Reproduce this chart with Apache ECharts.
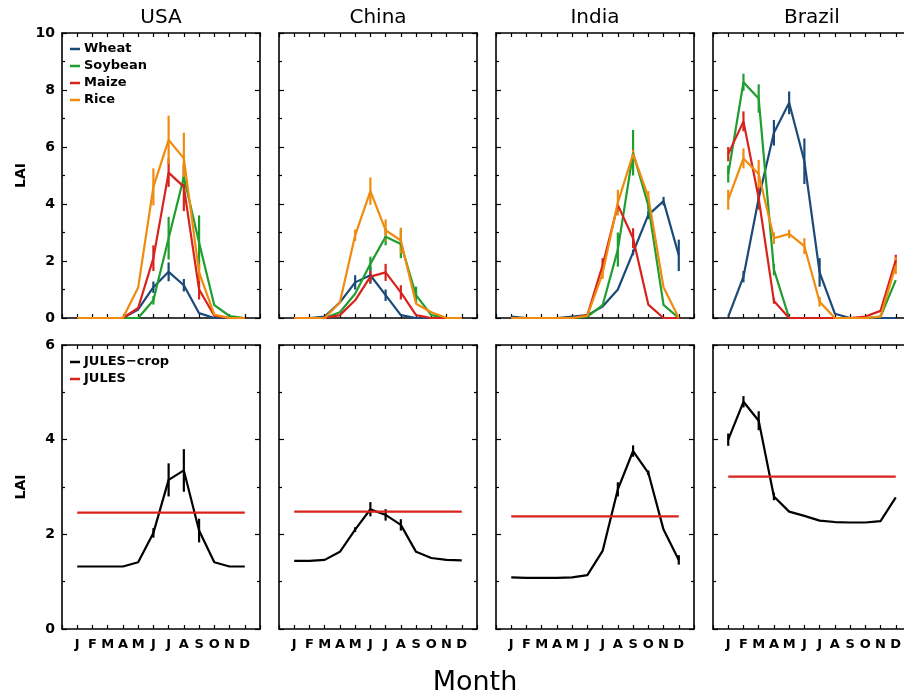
<!DOCTYPE html>
<html>
<head>
<meta charset="utf-8">
<script src="https://cdn.jsdelivr.net/npm/echarts@6/dist/echarts.min.js"></script>
<style>
  html, body { margin: 0; padding: 0; background: #fff; }
  #chart { width: 904px; height: 696px; }
</style>
</head>
<body>
<div id="chart"></div>
<script>
// ---- data -------------------------------------------------------------
const months = ['J', 'F', 'M', 'A', 'M', 'J', 'J', 'A', 'S', 'O', 'N', 'D'];
const countries = ['USA', 'China', 'India', 'Brazil'];
const crops = ['Wheat', 'Soybean', 'Maize', 'Rice'];
const topTicks = [0, 2, 4, 6, 8, 10];
const bottomTicks = [0, 2, 4, 6];

// Observed monthly LAI per crop, with the spread drawn as a vertical bar
const USA_Wheat      = [0, 0, 0, 0, 0.3, 1.08, 1.62, 1.15, 0.17, 0, 0, 0];
const USA_Wheat_sd   = [0, 0, 0, 0, 0, 0.2, 0.33, 0.22, 0, 0, 0, 0];
const USA_Soybean    = [0, 0, 0, 0, 0, 0.62, 2.8, 4.95, 2.65, 0.45, 0.07, 0];
const USA_Soybean_sd = [0, 0, 0, 0, 0, 0.15, 0.75, 0.4, 0.95, 0, 0, 0];
const USA_Maize      = [0, 0, 0, 0, 0.35, 2.1, 5.1, 4.6, 1.0, 0.08, 0, 0];
const USA_Maize_sd   = [0, 0, 0, 0, 0, 0.45, 0.5, 0.85, 0.35, 0, 0, 0];
const USA_Rice       = [0, 0, 0, 0, 1.07, 4.6, 6.25, 5.6, 1.6, 0.12, 0, 0];
const USA_Rice_sd    = [0, 0, 0, 0, 0, 0.65, 0.85, 0.9, 0.3, 0, 0, 0];

const China_Wheat      = [0, 0, 0.05, 0.55, 1.25, 1.5, 0.8, 0.1, 0, 0, 0, 0];
const China_Wheat_sd   = [0, 0, 0, 0, 0.25, 0.3, 0.2, 0, 0, 0, 0, 0];
const China_Soybean    = [0, 0, 0, 0.2, 0.85, 1.9, 2.85, 2.6, 0.8, 0.1, 0, 0];
const China_Soybean_sd = [0, 0, 0, 0, 0, 0.25, 0.3, 0.5, 0.3, 0, 0, 0];
const China_Maize      = [0, 0, 0, 0.1, 0.62, 1.45, 1.6, 0.9, 0.1, 0, 0, 0];
const China_Maize_sd   = [0, 0, 0, 0, 0, 0.2, 0.3, 0.25, 0, 0, 0, 0];
const China_Rice       = [0, 0, 0, 0.55, 2.9, 4.45, 3.08, 2.72, 0.5, 0.2, 0, 0];
const China_Rice_sd    = [0, 0, 0, 0, 0.2, 0.48, 0.38, 0.45, 0, 0, 0, 0];

const India_Wheat      = [0.05, 0, 0, 0, 0.05, 0.1, 0.4, 1.0, 2.3, 3.62, 4.1, 2.2];
const India_Wheat_sd   = [0, 0, 0, 0, 0, 0, 0, 0, 0.1, 0.15, 0.15, 0.55];
const India_Soybean    = [0, 0, 0, 0, 0, 0.05, 0.45, 2.4, 5.8, 3.95, 0.46, 0];
const India_Soybean_sd = [0, 0, 0, 0, 0, 0, 0, 0.6, 0.8, 0.15, 0, 0];
const India_Maize      = [0, 0, 0, 0, 0, 0.1, 1.85, 3.96, 2.8, 0.47, 0, 0];
const India_Maize_sd   = [0, 0, 0, 0, 0, 0, 0.25, 0, 0.35, 0, 0, 0];
const India_Rice       = [0, 0, 0, 0, 0, 0.08, 1.57, 4.05, 5.75, 4.25, 1.08, 0];
const India_Rice_sd    = [0, 0, 0, 0, 0, 0, 0.2, 0.45, 0.15, 0.2, 0, 0];

const Brazil_Wheat      = [0.05, 1.45, 4.2, 6.5, 7.55, 5.5, 1.6, 0.15, 0, 0, 0, 0];
const Brazil_Wheat_sd   = [0, 0.2, 0.1, 0.45, 0.4, 0.8, 0.5, 0, 0, 0, 0, 0];
const Brazil_Soybean    = [5.05, 8.27, 7.7, 1.7, 0, 0, 0, 0, 0, 0, 0.05, 1.33];
const Brazil_Soybean_sd = [0.3, 0.3, 0.5, 0.2, 0, 0, 0, 0, 0, 0, 0, 0];
const Brazil_Maize      = [5.75, 6.9, 4.2, 0.6, 0, 0, 0, 0, 0, 0.05, 0.25, 2.02];
const Brazil_Maize_sd   = [0.25, 0.35, 0.4, 0.1, 0, 0, 0, 0, 0, 0, 0, 0.2];
const Brazil_Rice       = [4.15, 5.6, 5.05, 2.8, 2.95, 2.52, 0.57, 0, 0, 0, 0.05, 1.84];
const Brazil_Rice_sd    = [0.35, 0.35, 0.5, 0.2, 0.15, 0.28, 0.17, 0, 0, 0, 0, 0.3];

// Simulated monthly LAI (JULES-crop) and the fixed JULES value
const USA_JULEScrop       = [1.32, 1.32, 1.32, 1.32, 1.41, 2.03, 3.15, 3.35, 2.08, 1.41, 1.32, 1.32];
const USA_JULEScrop_sd    = [0, 0, 0, 0, 0, 0.1, 0.35, 0.45, 0.25, 0, 0, 0];
const China_JULEScrop     = [1.44, 1.44, 1.46, 1.63, 2.1, 2.53, 2.41, 2.2, 1.63, 1.5, 1.46, 1.45];
const China_JULEScrop_sd  = [0, 0, 0, 0, 0.05, 0.15, 0.12, 0.12, 0, 0, 0, 0];
const India_JULEScrop     = [1.09, 1.08, 1.08, 1.08, 1.09, 1.14, 1.65, 2.95, 3.76, 3.3, 2.1, 1.46];
const India_JULEScrop_sd  = [0, 0, 0, 0, 0, 0, 0, 0.15, 0.12, 0.05, 0, 0.1];
const Brazil_JULEScrop    = [4.0, 4.8, 4.4, 2.8, 2.48, 2.39, 2.29, 2.26, 2.25, 2.25, 2.28, 2.78];
const Brazil_JULEScrop_sd = [0.13, 0.12, 0.2, 0.08, 0, 0, 0, 0, 0, 0, 0, 0];
const JULES_value = [2.46, 2.48, 2.38, 3.22];   // USA, China, India, Brazil

// ---- lookup tables built from the arrays above ----------------------------
const cropLAI = {
  USA:    [[USA_Wheat, USA_Wheat_sd], [USA_Soybean, USA_Soybean_sd], [USA_Maize, USA_Maize_sd], [USA_Rice, USA_Rice_sd]],
  China:  [[China_Wheat, China_Wheat_sd], [China_Soybean, China_Soybean_sd], [China_Maize, China_Maize_sd], [China_Rice, China_Rice_sd]],
  India:  [[India_Wheat, India_Wheat_sd], [India_Soybean, India_Soybean_sd], [India_Maize, India_Maize_sd], [India_Rice, India_Rice_sd]],
  Brazil: [[Brazil_Wheat, Brazil_Wheat_sd], [Brazil_Soybean, Brazil_Soybean_sd], [Brazil_Maize, Brazil_Maize_sd], [Brazil_Rice, Brazil_Rice_sd]]
};
const modelLAI = {
  USA: [USA_JULEScrop, USA_JULEScrop_sd],
  China: [China_JULEScrop, China_JULEScrop_sd],
  India: [India_JULEScrop, India_JULEScrop_sd],
  Brazil: [Brazil_JULEScrop, Brazil_JULEScrop_sd]
};

// ---- styling --------------------------------------------------------------
const cropColors = ['#1b4a78', '#1f9e30', '#d8231d', '#f08b0e'];
const cropColor = '#000000';
const julesColor = '#d8231d';
const LABEL_FONT = 'DejaVu Sans';
const LINE_W = 2.2;

const panelLeft = [62, 279, 496, 713];
const panelWidth = 198;
const rowTop = [33, 345];
const rowHeight = [285, 284];

// ---- build option -------------------------------------------------------
const grids = [], xAxes = [], yAxes = [], series = [];

function errorBars(name, color, vals, sd, axisIdx) {
  return {
    type: 'custom',
    name: name,
    xAxisIndex: axisIdx,
    yAxisIndex: axisIdx,
    silent: true,
    z: 3,
    data: vals.map((v, i) => [i + 1, v, sd[i]]).filter(d => d[2] > 0),
    renderItem: function (params, api) {
      const x = api.value(0), v = api.value(1), e = api.value(2);
      const lo = api.coord([x, v - e]);
      const hi = api.coord([x, v + e]);
      return {
        type: 'line',
        shape: { x1: lo[0], y1: lo[1], x2: hi[0], y2: hi[1] },
        style: { stroke: color, lineWidth: LINE_W }
      };
    }
  };
}

function addPanel(row, col) {
  const g = grids.length;
  // the right-most column runs past the canvas edge; keep its full width
  grids.push({
    left: panelLeft[col], width: panelWidth,
    top: rowTop[row], height: rowHeight[row],
    containLabel: false, outerBoundsMode: 'none'
  });
  const yMax = row === 0 ? topTicks[topTicks.length - 1] : bottomTicks[bottomTicks.length - 1];
  const frame = { show: true, onZero: false, lineStyle: { color: '#000', width: 1.6 } };
  const baseX = {
    type: 'value', gridIndex: g, min: 0, max: months.length + 1, interval: 1,
    axisLine: frame,
    axisTick: { show: true, inside: true, length: 4, lineStyle: { color: '#000', width: 1.2 } },
    splitLine: { show: false }
  };
  xAxes.push(Object.assign({}, baseX, {
    position: 'bottom',
    axisLabel: {
      show: row === 1, margin: 9, color: '#000', fontFamily: LABEL_FONT, fontWeight: 'bold', fontSize: 13,
      formatter: v => months[v - 1] || ''
    }
  }));
  xAxes.push(Object.assign({}, baseX, { position: 'top', axisLabel: { show: false } }));

  const baseY = {
    type: 'value', gridIndex: g, min: 0, max: yMax, interval: 2,
    axisLine: frame,
    axisTick: { show: true, inside: true, length: 5, lineStyle: { color: '#000', width: 1.2 } },
    minorTick: { show: true, splitNumber: 2, length: 3, lineStyle: { color: '#000', width: 1.2 } },
    splitLine: { show: false }
  };
  yAxes.push(Object.assign({}, baseY, {
    position: 'left',
    name: col === 0 ? 'LAI' : '',
    nameLocation: 'middle', nameRotate: 90, nameGap: 34,
    nameTextStyle: { color: '#000', fontFamily: LABEL_FONT, fontWeight: 'bold', fontSize: 14 },
    axisLabel: { show: col === 0, margin: 7, color: '#000', fontFamily: LABEL_FONT, fontWeight: 'bold', fontSize: 14 }
  }));
  yAxes.push(Object.assign({}, baseY, { position: 'right', axisLabel: { show: false } }));
  return 2 * g;
}

countries.forEach((c, col) => {
  const ax = addPanel(0, col);
  crops.forEach((crop, k) => {
    const [vals, sd] = cropLAI[c][k];
    series.push({
      type: 'line', name: crop, xAxisIndex: ax, yAxisIndex: ax,
      data: vals.map((v, i) => [i + 1, v]),
      symbol: 'none', color: cropColors[k],
      lineStyle: { width: LINE_W, color: cropColors[k] }, z: 3
    });
    series.push(errorBars(crop + ' spread ' + c, cropColors[k], vals, sd, ax));
  });
});

countries.forEach((c, col) => {
  const ax = addPanel(1, col);
  const [vals, sd] = modelLAI[c];
  series.push({
    type: 'line', name: 'JULES\u2212crop', xAxisIndex: ax, yAxisIndex: ax,
    data: vals.map((v, i) => [i + 1, v]),
    symbol: 'none', color: cropColor,
    lineStyle: { width: LINE_W, color: cropColor }, z: 3
  });
  series.push(errorBars('JULES-crop spread ' + c, cropColor, vals, sd, ax));
  series.push({
    type: 'line', name: 'JULES', xAxisIndex: ax, yAxisIndex: ax,
    data: [[1, JULES_value[col]], [months.length, JULES_value[col]]],
    symbol: 'none', color: julesColor,
    lineStyle: { width: LINE_W, color: julesColor }, z: 3
  });
});

const legendBase = {
  orient: 'vertical', left: 70, padding: 0, itemGap: 3,
  icon: 'rect', itemWidth: 10, itemHeight: 2.5,
  textStyle: { color: '#000', fontFamily: LABEL_FONT, fontWeight: 'bold', fontSize: 13, lineHeight: 14, padding: [0, 0, 0, -1] },
  selectedMode: false
};

const option = {
  animation: false,
  backgroundColor: '#fff',
  grid: grids,
  xAxis: xAxes,
  yAxis: yAxes,
  legend: [
    Object.assign({}, legendBase, { top: 42, data: crops }),
    Object.assign({}, legendBase, { top: 355, data: ['JULES\u2212crop', 'JULES'] })
  ],
  graphic: countries.map((c, col) => ({
    type: 'text',
    x: panelLeft[col] + panelWidth / 2, y: 18,
    style: { text: c, fill: '#000', font: '20px "DejaVu Sans"', align: 'center', verticalAlign: 'middle' }
  })).concat([{
    type: 'text', x: 475, y: 683,
    style: { text: 'Month', fill: '#000', font: '27px "DejaVu Sans"', align: 'center', verticalAlign: 'middle' }
  }]),
  series: series
};

const chart = echarts.init(document.getElementById('chart'), null, { renderer: 'canvas' });
chart.setOption(option);
</script>
</body>
</html>
